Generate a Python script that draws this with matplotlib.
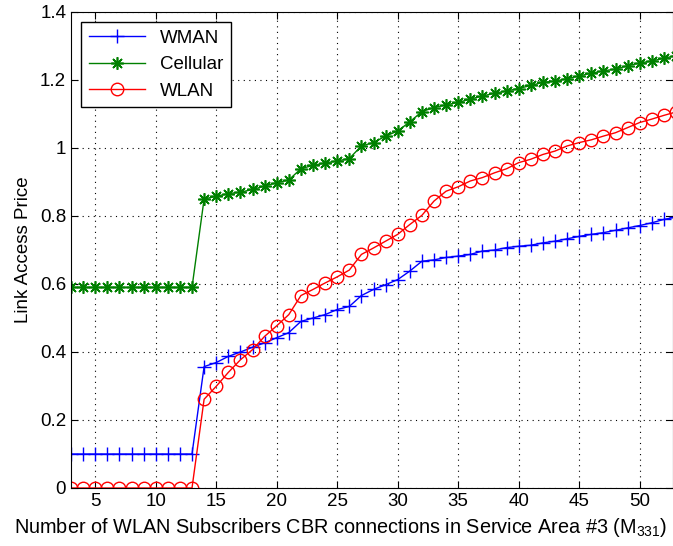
import matplotlib
matplotlib.use('Agg')
import matplotlib.pyplot as plt
from matplotlib.ticker import FuncFormatter

plt.rcParams['font.family'] = ['Liberation Sans', 'DejaVu Sans']
plt.rcParams['mathtext.fontset'] = 'custom'
plt.rcParams['mathtext.rm'] = 'Liberation Sans'

# number of WLAN subscribers (x axis)
subscribers = list(range(3, 54))

wman = [0.10] * 11 + [
    0.357, 0.369, 0.387, 0.400, 0.414, 0.427, 0.442, 0.457, 0.490, 0.500,
    0.510, 0.525, 0.534, 0.566, 0.584, 0.598, 0.613, 0.638, 0.667, 0.671,
    0.678, 0.682, 0.687, 0.697, 0.700, 0.707, 0.711, 0.714, 0.721, 0.726,
    0.733, 0.740, 0.746, 0.751, 0.758, 0.765, 0.772, 0.780, 0.790, 0.797]

cellular = [0.59] * 11 + [
    0.850, 0.858, 0.866, 0.870, 0.878, 0.888, 0.898, 0.906, 0.939, 0.949,
    0.956, 0.962, 0.969, 1.006, 1.016, 1.035, 1.050, 1.077, 1.107, 1.119,
    1.127, 1.134, 1.144, 1.153, 1.161, 1.168, 1.175, 1.184, 1.193, 1.197,
    1.204, 1.212, 1.220, 1.227, 1.232, 1.242, 1.250, 1.256, 1.264, 1.272]

wlan = [0.0] * 11 + [
    0.261, 0.299, 0.340, 0.377, 0.407, 0.446, 0.477, 0.510, 0.566, 0.584,
    0.603, 0.621, 0.641, 0.687, 0.706, 0.726, 0.746, 0.775, 0.802, 0.844,
    0.873, 0.886, 0.903, 0.913, 0.927, 0.939, 0.957, 0.967, 0.981, 0.991,
    1.006, 1.016, 1.024, 1.035, 1.045, 1.060, 1.075, 1.085, 1.096, 1.106]

x_ticks = [5, 10, 15, 20, 25, 30, 35, 40, 45, 50]
y_ticks = [0, 0.2, 0.4, 0.6, 0.8, 1.0, 1.2, 1.4]

fig = plt.figure(figsize=(6.73, 5.46), dpi=100)
ax = fig.add_axes([71 / 673, 58 / 546, 1 - 71 / 673, 476 / 546])

ax.plot(subscribers, wman, color=(0, 0, 1), marker='+', markersize=10,
        linewidth=1, label='WMAN')
# matlab style asterisk marker
ax.plot(subscribers, cellular, color=(0, 0.5, 0), marker=(8, 2, 0), markersize=9,
        markeredgewidth=1.2, linewidth=1, label='Cellular')
ax.plot(subscribers, wlan, color=(1, 0, 0), marker='o', markersize=9,
        markerfacecolor='none', linewidth=1, label='WLAN')

ax.set_xlim(3, 52.75)
ax.set_ylim(0, 1.4)
ax.set_xticks(x_ticks)
ax.set_yticks(y_ticks)
ax.yaxis.set_major_formatter(FuncFormatter(lambda v, p: '%g' % v))
ax.tick_params(direction='in', top=True, right=True, labelsize=13.5, length=5)
ax.grid(True, color='black', linestyle=(0, (1, 4)), linewidth=0.8)

ax.set_xlabel('Number of WLAN Subscribers CBR connections in Service Area #3 (M$_{331}$)',
              fontsize=14.3)
# label sits left of the axes centre in the original
ax.xaxis.set_label_coords(0.448, -0.058)
ax.set_ylabel('Link Access Price', fontsize=13.5, labelpad=6)

leg = ax.legend(loc='upper left', fontsize=13.5, fancybox=False, edgecolor='black',
                framealpha=1, borderaxespad=0.55, handlelength=3)
leg.get_frame().set_linewidth(1)

fig.savefig('out.png', dpi=100)
